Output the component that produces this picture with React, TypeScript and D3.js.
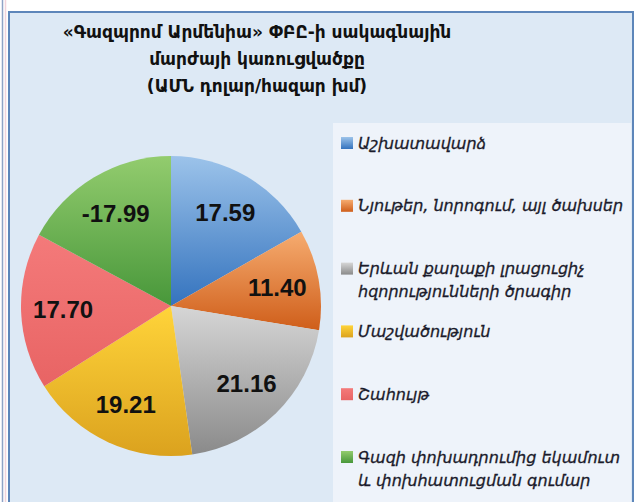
import * as d3 from "d3";

// slices, clockwise from 12 o'clock
const labels = [
  ["Աշխատավարձ"],
  ["Նյութեր, նորոգում, այլ ծախսեր"],
  ["Երևան քաղաքի լրացուցիչ", "հզորությունների ծրագիր"],
  ["Մաշվածություն"],
  ["Շահույթ"],
  ["Գազի փոխադրումից եկամուտ", "և փոխհատուցման գումար"],
];
const values = [17.59, 11.4, 21.16, 19.21, 17.7, -17.99];
const topColors = ["#9cc3ea", "#f6ac70", "#d6d6d6", "#ffd43a", "#f47a7a", "#93cc6e"];
const bottomColors = ["#3473be", "#cf5e1a", "#8a8a8a", "#dba21e", "#e86464", "#48973a"];
const titleLines = [
  "«Գազպրոմ Արմենիա» ՓԲԸ-ի սակագնային",
  "մարժայի կառուցվածքը",
  "(ԱՄՆ դոլար/հազար խմ)",
];

const cx = 171;
const cy = 306;
const radius = 150;

export default function App() {
  const pie = d3
    .pie<number>()
    .sort(null)
    .value((d) => Math.abs(d));
  const arcs = pie(values);
  const arc = d3.arc<d3.PieArcDatum<number>>().innerRadius(0).outerRadius(radius);
  const labelArc = d3
    .arc<d3.PieArcDatum<number>>()
    .innerRadius(radius * 0.72)
    .outerRadius(radius * 0.72);

  // legend rows: y of first line of each item
  const legendY = d3.scalePoint<number>().domain(d3.range(labels.length)).range([143, 457]);

  return (
    <svg
      width={638}
      height={502}
      style={{ position: "absolute", left: 0, top: 0, background: "#fff" }}
    >
      <defs>
        {values.map((_, i) => (
          <linearGradient key={i} id={`g${i}`} x1="0" y1="0" x2="0" y2="1">
            <stop offset="0%" stopColor={topColors[i]} />
            <stop offset="100%" stopColor={bottomColors[i]} />
          </linearGradient>
        ))}
      </defs>

      {/* outer page lines */}
      <line x1={2.5} y1={0} x2={2.5} y2={502} stroke="#8fa3c6" strokeWidth={1.5} />
      <line x1={5.5} y1={0} x2={5.5} y2={502} stroke="#f2d4dc" strokeWidth={1.5} />

      {/* panel */}
      <rect x={9} y={12} width={624} height={500} fill="#dde9f5" stroke="#5d86ba" strokeWidth={2} />

      {/* legend box */}
      <rect x={333} y={123} width={298} height={390} fill="#eef3fa" />

      {titleLines.map((t, i) => (
        <text
          key={i}
          x={257}
          y={38 + i * 27}
          textAnchor="middle"
          fontFamily="DejaVu Sans"
          fontWeight="bold"
          fontSize={17}
          fill="#111"
        >
          {t}
        </text>
      ))}

      <g transform={`translate(${cx},${cy})`}>
        {arcs.map((a, i) => (
          <path key={i} d={arc(a) || ""} fill={`url(#g${i})`} />
        ))}
        {arcs.map((a, i) => {
          const [x, y] = labelArc.centroid(a);
          return (
            <text
              key={i}
              x={x}
              y={y}
              dy="0.36em"
              textAnchor="middle"
              fontFamily="Liberation Sans"
              fontWeight="bold"
              fontSize={24}
              fill="#111"
            >
              {values[i].toFixed(2)}
            </text>
          );
        })}
      </g>

      {labels.map((lines, i) => {
        const y0 = legendY(i)!;
        return (
          <g key={i}>
            <rect x={341} y={y0 - 6} width={12} height={12} fill={`url(#g${i})`} />
            {lines.map((t, j) => (
              <text
                key={j}
                x={358}
                y={y0 + j * 23}
                dy="0.35em"
                fontFamily="DejaVu Sans"
                fontStyle="italic"
                fontSize={16}
                fill="#1b1b2b"
                stroke="#1b1b2b"
                strokeWidth={0.3}
              >
                {t}
              </text>
            ))}
          </g>
        );
      })}
    </svg>
  );
}
